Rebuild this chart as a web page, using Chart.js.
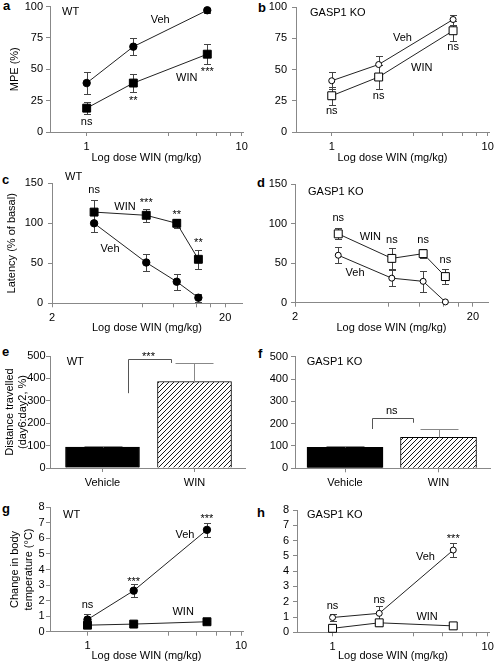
<!DOCTYPE html>
<html><head><meta charset="utf-8">
<script src="https://cdn.jsdelivr.net/npm/chart.js@4/dist/chart.umd.min.js"></script>
<style>
html,body{margin:0;padding:0;background:#fff}
body{width:495px;height:664px;position:relative;overflow:hidden;font-family:"Liberation Sans",Arial,Helvetica,sans-serif}
canvas{position:absolute}
.lt{position:absolute;font-weight:bold;font-size:13px;line-height:13px;color:#000}
</style></head><body>
<div class="lt" style="left:3px;top:-1px">a</div>
<div class="lt" style="left:258px;top:1px">b</div>
<div class="lt" style="left:2px;top:173px">c</div>
<div class="lt" style="left:257px;top:176px">d</div>
<div class="lt" style="left:2px;top:345px">e</div>
<div class="lt" style="left:258px;top:347px">f</div>
<div class="lt" style="left:2px;top:502px">g</div>
<div class="lt" style="left:257px;top:506px">h</div>
<canvas id="ca"></canvas><canvas id="cb"></canvas>
<canvas id="cc"></canvas><canvas id="cd"></canvas>
<canvas id="ce"></canvas><canvas id="cf"></canvas>
<canvas id="cg"></canvas><canvas id="ch"></canvas>
<script>
// ---------------- data ----------------
const xTitle = 'Log dose WIN (mg/kg)';
// a / b : MPE (%)
const dosesMPE = [1, 2, 6];
const mpeWTVeh = [39, 68, 97];   const mpeWTVehErr = [9, 7, 2];
const mpeWTWin = [19, 39, 62];   const mpeWTWinErr = [5, 7, 8];
const mpeKOVeh = [41, 54, 90];   const mpeKOVehErr = [7, 7, 4];
const mpeKOWin = [29, 44, 81];   const mpeKOWinErr = [7, 10, 8];
// c / d : latency (% of basal)
const dosesLat = [3.5, 7, 10.5, 14];
const latWTVeh = [100, 51, 27, 7];   const latWTVehErr = [11, 11, 10, 5];
const latWTWin = [114, 110, 100, 55]; const latWTWinErr = [15, 8, 6, 12];
const latKOVeh = [60, 31, 27, 1];    const latKOVehErr = [10, 10, 13, 0];
const latKOWin = [87, 56, 62, 33];   const latKOWinErr = [7, 13, 6, 9];
// e / f : distance travelled
const locCats = ['Vehicle', 'WIN'];
const locWT = [93, 386];  const locWTErr = [7, 83];
const locKO = [94, 139];  const locKOErr = [7, 36];
// g / h : change in body temperature
const dosesTemp = [1, 2, 6];
const tmpWTVeh = [0.78, 2.64, 6.55]; const tmpWTVehErr = [0.33, 0.43, 0.47];
const tmpWTWin = [0.42, 0.49, 0.64]; const tmpWTWinErr = [0.06, 0.06, 0.06];
const tmpKOVeh = [0.97, 1.24, 5.38]; const tmpKOVehErr = [0.25, 0.45, 0.45];
const tmpKOWin = [0.26, 0.62, 0.42]; const tmpKOWinErr = [0.08, 0.2, 0.07];
// tick values
const ticks1to10 = [1, 3.35, 5.15, 6.9, 8.5, 10];   const labels1to10 = [1, 10];
const ticks2to20 = [2, 6.7, 10, 13.7, 16.5, 20];    const labels2to20 = [2, 20];
const ticksMPE = [0, 25, 50, 75, 100];
const ticksLat = [0, 50, 100, 150];
const ticksLoc = [0, 100, 200, 300, 400, 500];
const ticksTemp = [0, 1, 2, 3, 4, 5, 6, 7, 8];

// ---------------- helpers ----------------
const FONT = '"Liberation Sans", Arial, Helvetica, sans-serif';
Chart.defaults.font.family = FONT;
Chart.defaults.font.size = 11;
Chart.defaults.color = '#000';
Chart.defaults.animation = false;
Chart.defaults.plugins.legend.display = false;
Chart.defaults.plugins.tooltip.enabled = false;

function pts(xs, ys) { return xs.map((x, i) => ({x: x, y: ys[i]})); }

function drawErr(chart, o) {
  const ctx = chart.ctx, xs = chart.scales.x, ys = chart.scales.y;
  ctx.save(); ctx.strokeStyle = o.errColor; ctx.lineWidth = 1;
  chart.data.datasets.forEach((ds, i) => {
    const e = o.errs[i]; if (!e) return;
    ds.data.forEach((p, j) => {
      if (!e[j]) return;
      const x = Math.round(xs.getPixelForValue(p.x)) + 0.5;
      const yT = Math.round(ys.getPixelForValue(p.y + e[j])) + 0.5;
      const yB = Math.round(ys.getPixelForValue(o.barErr ? p.y : p.y - e[j])) + 0.5;
      ctx.beginPath();
      ctx.moveTo(x, yB); ctx.lineTo(x, yT);
      ctx.moveTo(x - o.cap, yT); ctx.lineTo(x + o.cap, yT);
      if (!o.barErr) { ctx.moveTo(x - o.cap, yB); ctx.lineTo(x + o.cap, yB); }
      ctx.stroke();
    });
  });
  ctx.restore();
}

const overlay = {
  id: 'overlay',
  beforeDatasetsDraw(chart, args, o) { if (o.errs && !o.barErr) drawErr(chart, o); },
  afterDatasetsDraw(chart, args, o) {
    const ctx = chart.ctx, xs = chart.scales.x, ys = chart.scales.y;
    if (o.errs && o.barErr) drawErr(chart, o);
    if (o.bracket) {
      const b = o.bracket;
      const x1 = Math.round(xs.getPixelForValue(b.x1)) + 0.5, x2 = Math.round(xs.getPixelForValue(b.x2)) + 0.5;
      const yt = Math.round(ys.getPixelForValue(b.yTop)) + 0.5;
      ctx.save(); ctx.strokeStyle = '#555'; ctx.lineWidth = 1; ctx.beginPath();
      ctx.moveTo(x1, ys.getPixelForValue(b.y1)); ctx.lineTo(x1, yt); ctx.lineTo(x2, yt); ctx.lineTo(x2, ys.getPixelForValue(b.y2));
      ctx.stroke(); ctx.restore();
    }
    ctx.save();
    ctx.fillStyle = '#000'; ctx.font = '11px ' + FONT; ctx.textAlign = 'center'; ctx.textBaseline = 'middle';
    (o.labels || []).forEach(l => ctx.fillText(l.t, xs.getPixelForValue(l.x), ys.getPixelForValue(l.y)));
    if (o.group) {
      ctx.textAlign = 'left';
      ctx.fillText(o.group.t, chart.chartArea.left + o.group.dx, chart.chartArea.top + o.group.dy);
    }
    ctx.restore();
  }
};

function setup(id, area, colLeft, bottom) {
  const cv = document.getElementById(id);
  const box = {l: colLeft, t: Math.floor(area.t) - 20, r: Math.ceil(area.r) + 22, b: bottom};
  cv.width = box.r - box.l; cv.height = box.b - box.t;
  cv.style.left = box.l + 'px'; cv.style.top = box.t + 'px';
  cv.style.width = cv.width + 'px'; cv.style.height = cv.height + 'px';
  return {cv, box};
}

function yAxis(p, box) {
  return {
    type: 'linear', min: p.yMin, max: p.yMax,
    afterBuildTicks: s => { s.ticks = p.yTicks.map(v => ({value: v})); },
    ticks: {autoSkip: false, padding: p.yPad, color: '#000', font: {size: 11}},
    grid: {drawOnChartArea: false, drawTicks: true, tickLength: 4, color: '#888'},
    border: {display: true, color: '#888', width: 1},
    title: p.yTitle ? {display: true, text: p.yTitle, color: '#000', font: {size: 11, lineHeight: p.yTitleLH || 1.3},
      padding: {top: p.yTitlePad, bottom: 0}} : {display: false},
    afterFit: s => { s.width = p.area.l - box.l; }
  };
}

function xLogAxis(p, box) {
  return {
    type: 'logarithmic', min: p.xMin, max: p.xMax,
    afterBuildTicks: s => { s.ticks = p.xTicks.map(v => ({value: v})); },
    ticks: {autoSkip: false, maxRotation: 0, minRotation: 0, padding: 4, color: '#000', font: {size: 11},
      callback: v => p.xLabels.includes(v) ? String(v) : ''},
    grid: {drawOnChartArea: false, drawTicks: true, tickLength: 4, color: '#888'},
    border: {display: true, color: '#888', width: 1},
    title: {display: true, text: xTitle, color: '#000', font: {size: 11}, padding: {top: 0, bottom: p.xTitlePad}},
    afterFit: s => { s.height = box.b - p.area.b; }
  };
}

function lineDs(doses, vals, filled, style, r) {
  return {data: pts(doses, vals), borderColor: '#222', borderWidth: 1, tension: 0, clip: false,
    pointStyle: style, pointRadius: r, pointBackgroundColor: filled ? '#000' : '#fff',
    pointBorderColor: '#000', pointBorderWidth: 1};
}

function linePanel(p) {
  const {cv, box} = setup(p.id, p.area, p.colLeft, p.bottom);
  new Chart(cv, {
    type: 'line',
    data: {datasets: p.datasets},
    options: {
      responsive: false, devicePixelRatio: 1,
      layout: {padding: {left: 0, top: p.area.t - box.t, right: box.r - p.area.r, bottom: 0}},
      scales: {x: xLogAxis(p, box), y: yAxis(p, box)},
      plugins: {overlay: {errs: p.errs, errColor: '#444', cap: 3.5, barErr: false, labels: p.labels, group: p.group}}
    },
    plugins: [overlay]
  });
}

function hatch() {
  const c = document.createElement('canvas'); c.width = 5; c.height = 5;
  const g = c.getContext('2d');
  g.fillStyle = '#fff'; g.fillRect(0, 0, 5, 5);
  g.strokeStyle = '#000'; g.lineWidth = 0.9; g.beginPath();
  g.moveTo(-1, 6); g.lineTo(6, -1);
  g.moveTo(-1, 1); g.lineTo(1, -1);
  g.moveTo(4, 6); g.lineTo(6, 4);
  g.stroke();
  return g.createPattern(c, 'repeat');
}

function barPanel(p) {
  const {cv, box} = setup(p.id, p.area, p.colLeft, p.bottom);
  new Chart(cv, {
    type: 'bar',
    data: {datasets: [{data: pts([1, 2], p.vals), backgroundColor: ['#000', hatch()], borderColor: '#000',
      borderWidth: 1, barThickness: p.barW}]},
    options: {
      responsive: false, devicePixelRatio: 1,
      layout: {padding: {left: 0, top: p.area.t - box.t, right: box.r - p.area.r, bottom: 0}},
      scales: {
        x: {type: 'linear', min: p.xMin, max: p.xMax, offset: false,
          afterBuildTicks: s => { s.ticks = [1, 2].map(v => ({value: v})); },
          ticks: {autoSkip: false, maxRotation: 0, padding: 4, color: '#000', font: {size: 11},
            callback: v => locCats[Math.round(v) - 1] || ''},
          grid: {drawOnChartArea: false, drawTicks: true, tickLength: 4, color: '#888', offset: false},
          border: {display: true, color: '#888', width: 1},
          afterFit: s => { s.height = box.b - p.area.b; }},
        y: yAxis(p, box)
      },
      plugins: {overlay: {errs: [p.errs], errColor: '#888', cap: 19, barErr: true, labels: p.labels,
        group: p.group, bracket: p.bracket}}
    },
    plugins: [overlay]
  });
}

// ---------------- panels ----------------
linePanel({id: 'ca', colLeft: 0, bottom: 165, area: {l: 50, t: 6.5, r: 243, b: 132},
  xMin: 0.58, xMax: 10.2, xTicks: ticks1to10, xLabels: labels1to10, xTitlePad: 0.8,
  yMin: 0, yMax: 100, yTicks: ticksMPE, yPad: 3, yTitle: 'MPE (%)', yTitlePad: 8,
  datasets: [lineDs(dosesMPE, mpeWTVeh, true, 'circle', 3.7), lineDs(dosesMPE, mpeWTWin, true, 'rect', 5.6)],
  errs: [mpeWTVehErr, mpeWTWinErr],
  labels: [{t: 'ns', x: 1, y: 8}, {t: '**', x: 2, y: 25}, {t: '***', x: 6, y: 48},
           {t: 'Veh', x: 2.98, y: 89}, {t: 'WIN', x: 4.42, y: 43.4}],
  group: {t: 'WT', dx: 12, dy: 5.5}});

linePanel({id: 'cb', colLeft: 245, bottom: 165, area: {l: 296, t: 7, r: 489, b: 132},
  xMin: 0.59, xMax: 10.2, xTicks: ticks1to10, xLabels: labels1to10, xTitlePad: 0.8,
  yMin: 0, yMax: 100, yTicks: ticksMPE, yPad: 5,
  datasets: [lineDs(dosesMPE, mpeKOVeh, false, 'circle', 3), lineDs(dosesMPE, mpeKOWin, false, 'rect', 5.6)],
  errs: [mpeKOVehErr, mpeKOWinErr],
  labels: [{t: 'ns', x: 1, y: 17}, {t: 'ns', x: 2, y: 29}, {t: 'ns', x: 6, y: 67.8},
           {t: 'Veh', x: 2.84, y: 75}, {t: 'WIN', x: 3.78, y: 51}],
  group: {t: 'GASP1 KO', dx: 14, dy: 6.3}});

linePanel({id: 'cc', colLeft: 0, bottom: 335, area: {l: 52, t: 183.3, r: 242, b: 303.3},
  xMin: 2, xMax: 25, xTicks: ticks2to20, xLabels: labels2to20, xTitlePad: 0.6,
  yMin: 0, yMax: 150, yTicks: ticksLat, yPad: 5, yTitle: 'Latency (% of basal)', yTitlePad: 4.6,
  datasets: [lineDs(dosesLat, latWTVeh, true, 'circle', 3.7), lineDs(dosesLat, latWTWin, true, 'rect', 5.6)],
  errs: [latWTVehErr, latWTWinErr],
  labels: [{t: 'ns', x: 3.5, y: 142}, {t: '***', x: 7, y: 125}, {t: '**', x: 10.5, y: 110.6}, {t: '**', x: 14, y: 75},
           {t: 'WIN', x: 5.28, y: 120.7}, {t: 'Veh', x: 4.33, y: 67.5}],
  group: {t: 'WT', dx: 13, dy: -6.3}});

linePanel({id: 'cd', colLeft: 245, bottom: 335, area: {l: 295, t: 184, r: 488, b: 302.7},
  xMin: 2, xMax: 24.3, xTicks: ticks2to20, xLabels: labels2to20, xTitlePad: 0.6,
  yMin: 0, yMax: 150, yTicks: ticksLat, yPad: 4,
  datasets: [lineDs(dosesLat, latKOVeh, false, 'circle', 3), lineDs(dosesLat, latKOWin, false, 'rect', 5.6)],
  errs: [latKOVehErr, latKOWinErr],
  labels: [{t: 'ns', x: 3.5, y: 106.7}, {t: 'ns', x: 7, y: 79.6}, {t: 'ns', x: 10.5, y: 79.6}, {t: 'ns', x: 14, y: 54},
           {t: 'WIN', x: 5.3, y: 83.4}, {t: 'Veh', x: 4.35, y: 37.2}],
  group: {t: 'GASP1 KO', dx: 13, dy: 7.7}});

barPanel({id: 'ce', colLeft: 0, bottom: 500, area: {l: 50, t: 356, r: 245, b: 468},
  xMin: 0.4293, xMax: 2.549, barW: 74, vals: locWT, errs: locWTErr,
  yMin: 0, yMax: 500, yTicks: ticksLoc, yPad: 0.5, yTitle: ['Distance travelled', '(day6:day2, %)'],
  yTitlePad: 2.9, yTitleLH: 1.2,
  labels: [{t: '***', x: 1.5, y: 495}],
  bracket: {x1: 1.28, x2: 1.75, y1: 334, yTop: 487, y2: 469},
  group: {t: 'WT', dx: 16.7, dy: 5.7}});

barPanel({id: 'cf', colLeft: 245, bottom: 500, area: {l: 295, t: 356.7, r: 490, b: 468.3},
  xMin: 0.4652, xMax: 2.5508, barW: 76, vals: locKO, errs: locKOErr,
  yMin: 0, yMax: 500, yTicks: ticksLoc, yPad: 3,
  labels: [{t: 'ns', x: 1.5, y: 258}],
  bracket: {x1: 1.285, x2: 1.73, y1: 176, yTop: 224, y2: 204},
  group: {t: 'GASP1 KO', dx: 11.7, dy: 5.6}});

linePanel({id: 'cg', colLeft: 0, bottom: 664, area: {l: 50, t: 507.3, r: 243, b: 631.7},
  xMin: 0.57, xMax: 10.3, xTicks: ticks1to10, xLabels: labels1to10, xTitlePad: 1.4,
  yMin: 0, yMax: 8, yTicks: ticksTemp, yPad: 1.5, yTitle: ['Change in body', 'temperature (°C)'], yTitlePad: 7.8,
  datasets: [lineDs(dosesTemp, tmpWTVeh, true, 'circle', 3.7), lineDs(dosesTemp, tmpWTWin, true, 'rect', 5.6)],
  errs: [tmpWTVehErr, tmpWTWinErr],
  labels: [{t: 'ns', x: 1, y: 1.72}, {t: '***', x: 2, y: 3.23}, {t: '***', x: 6, y: 7.23},
           {t: 'Veh', x: 4.31, y: 6.22}, {t: 'WIN', x: 4.2, y: 1.25}],
  group: {t: 'WT', dx: 13, dy: 7.7}});

linePanel({id: 'ch', colLeft: 245, bottom: 664, area: {l: 297, t: 510, r: 489, b: 632.3},
  xMin: 0.59, xMax: 10.2, xTicks: ticks1to10, xLabels: labels1to10, xTitlePad: 1.4,
  yMin: 0, yMax: 8, yTicks: ticksTemp, yPad: 4,
  datasets: [lineDs(dosesTemp, tmpKOVeh, false, 'circle', 3), lineDs(dosesTemp, tmpKOWin, false, 'rect', 5.6)],
  errs: [tmpKOVehErr, tmpKOWinErr],
  labels: [{t: 'ns', x: 1, y: 1.70}, {t: 'ns', x: 2, y: 2.13}, {t: '***', x: 6, y: 6.09},
           {t: 'Veh', x: 3.97, y: 4.9}, {t: 'WIN', x: 4.07, y: 1.02}],
  group: {t: 'GASP1 KO', dx: 10, dy: 5}});
</script>
</body></html>
